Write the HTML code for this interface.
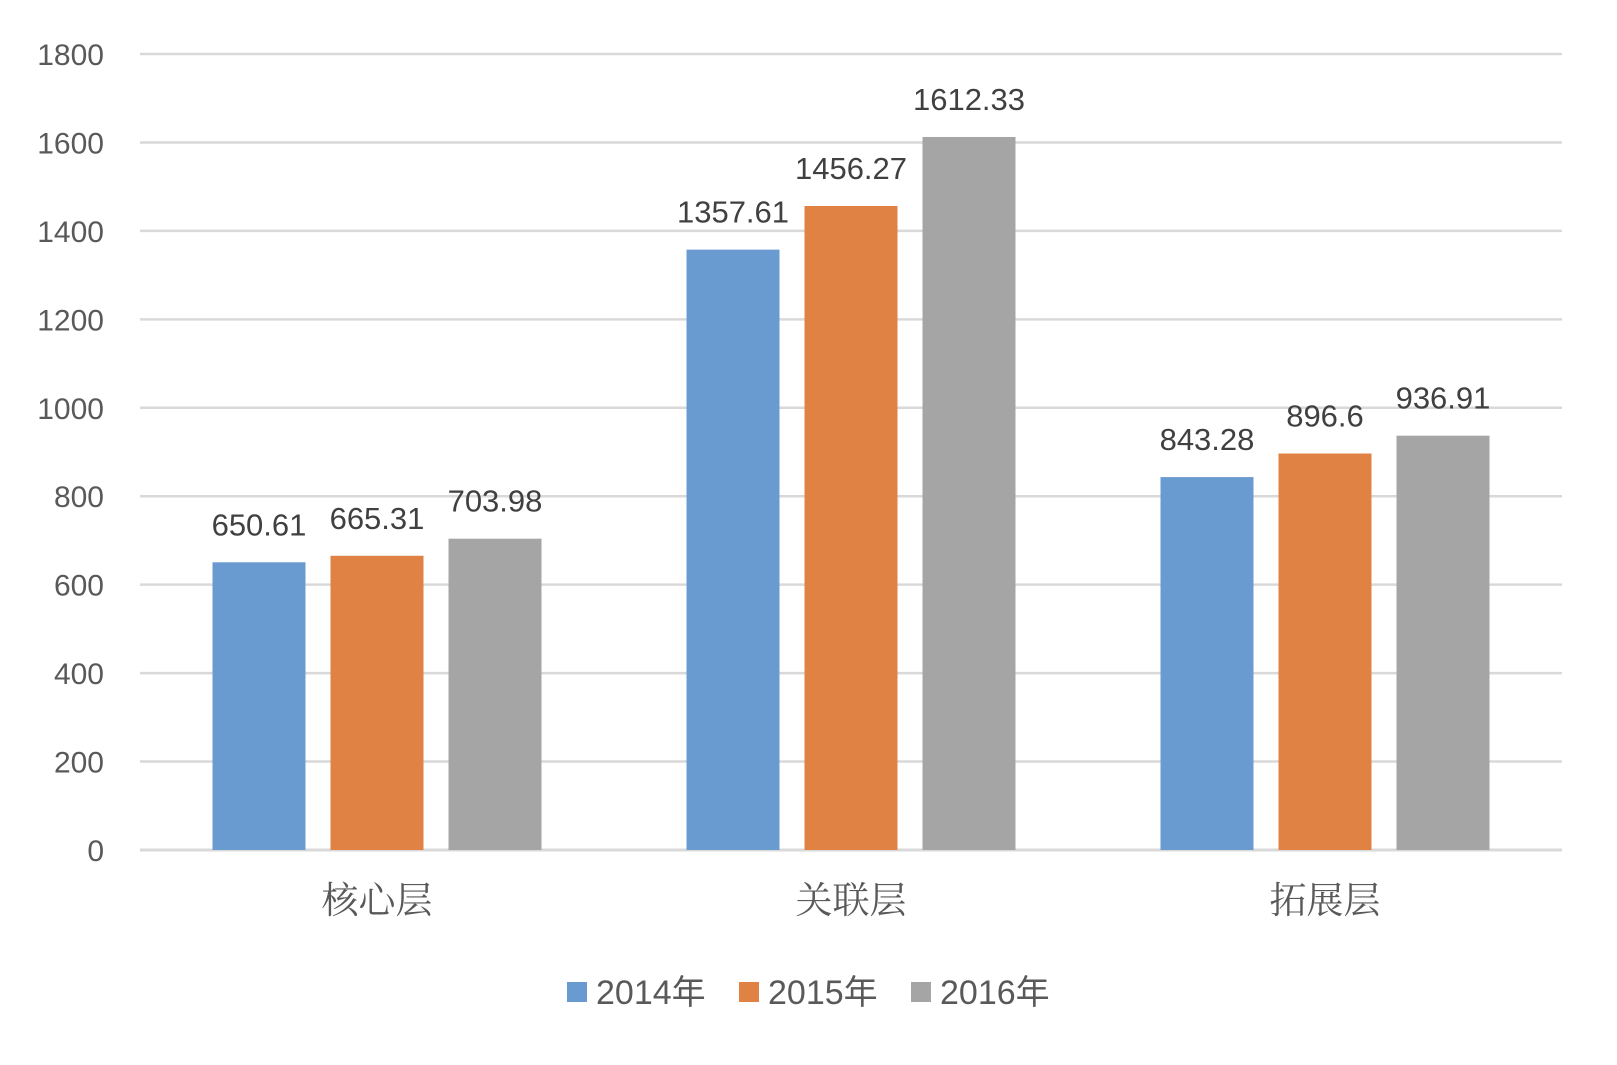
<!DOCTYPE html>
<html><head><meta charset="utf-8"><style>
body{margin:0;background:#fff;}
svg{display:block;}
</style></head><body>
<svg width="1617" height="1065" viewBox="0 0 1617 1065" xmlns="http://www.w3.org/2000/svg">
<g id="grid"></g>
<g id="yaxis"></g>
<g id="bars"></g>
<g id="labels"></g>
<g id="xaxis"></g>
<g id="legend"></g>
</svg>
<script>
const categories = ["核心层","关联层","拓展层"];
const seriesNames = ["2014年","2015年","2016年"];
const s2014 = [650.61, 1357.61, 843.28];
const s2015 = [665.31, 1456.27, 896.6];
const s2016 = [703.98, 1612.33, 936.91];
const yTicks = [0,200,400,600,800,1000,1200,1400,1600,1800];
const seriesLabels = [["650.61","1357.61","843.28"],["665.31","1456.27","896.6"],["703.98","1612.33","936.91"]];

const series=[s2014,s2015,s2016];
const colors=["#6a9bd0","#e08244","#a5a5a5"];
const NS="http://www.w3.org/2000/svg";
const X0=140,X1=1562,Y0=850,YT=54,YMAX=1800;
const y=v=>Y0-(v/YMAX)*(Y0-YT);
const bandW=(X1-X0)/categories.length;
const xc=i=>X0+bandW*(i+0.5);
const BW=93,GAP=25;
function mk(tag,attrs,parent){const e=document.createElementNS(NS,tag);for(const k in attrs)e.setAttribute(k,attrs[k]);parent.appendChild(e);return e;}
const grid=document.getElementById('grid'),yax=document.getElementById('yaxis'),bars=document.getElementById('bars'),labs=document.getElementById('labels'),xax=document.getElementById('xaxis'),leg=document.getElementById('legend');
yTicks.forEach(t=>{
  const l=mk('line',{x1:X0,x2:X1,y1:y(t),y2:y(t),stroke:'#d9d9d9','stroke-width':t===0?3:2.5},grid);
  
  
  const tx=mk('text',{x:104,y:y(t)+11,'text-anchor':'end','font-size':30,fill:'#595959','font-family':'Liberation Sans, sans-serif'},yax);
  tx.textContent=t;
  
  
});
categories.forEach((c,i)=>{
  const start=xc(i)-(BW*3+GAP*2)/2;
  series.forEach((s,j)=>{
    const bx=start+j*(BW+GAP);
    const r=mk('rect',{x:bx,y:y(s[i]),width:BW,height:Y0-y(s[i]),fill:colors[j]},bars);
    
    
    const t=mk('text',{x:bx+BW/2,y:y(s[i])-27,'text-anchor':'middle','font-size':31,fill:'#404040','font-family':'Liberation Sans, sans-serif'},labs);
    t.textContent=seriesLabels[j][i];
    
    
  });
  const ct=mk('text',{x:xc(i),y:913,'text-anchor':'middle','font-size':37,fill:'#595959','font-family':'Liberation Serif, Noto Serif CJK SC, serif'},xax);
  ct.textContent=c;
  
  
});
const legX=[567,739,911];
seriesNames.forEach((n,j)=>{
  const g=mk('g',{},leg);
  
  
  mk('rect',{x:legX[j],y:982,width:20,height:20,fill:colors[j]},g);
  const t=mk('text',{x:legX[j]+29,y:1004,'font-size':34,fill:'#595959','font-family':'Liberation Sans, Noto Sans CJK SC, sans-serif'},g);
  t.textContent=n;
});
</script>
</body></html>
